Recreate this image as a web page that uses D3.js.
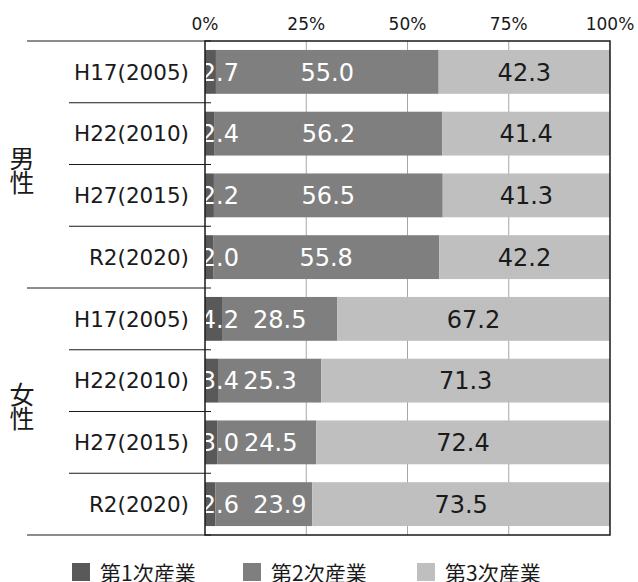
<!doctype html>
<html>
  <head>
    <meta charset="utf-8">
    <style>
      body { margin: 0; background: white; }
    </style>
    <script src="https://d3js.org/d3.v7.min.js"></script>
  </head>
  <body>
    <svg id="chart" width="638" height="582"></svg>
    <script>
      // row labels, top to bottom (male group then female group)
      var years = ["H17(2005)", "H22(2010)", "H27(2015)", "R2(2020)"];
      var groups = ["男性", "女性"];
      var series = ["第1次産業", "第2次産業", "第3次産業"];
      var colors = ["#595959", "#7f7f7f", "#bfbfbf"];
      var labelColors = ["#ffffff", "#ffffff", "#1a1a1a"];

      var primaryVals   = [2.7, 2.4, 2.2, 2.0, 4.2, 3.4, 3.0, 2.6];
      var secondaryVals = [55.0, 56.2, 56.5, 55.8, 28.5, 25.3, 24.5, 23.9];
      var tertiaryVals  = [42.3, 41.4, 41.3, 42.2, 67.2, 71.3, 72.4, 73.5];
      var tickVals = [0, 25, 50, 75, 100];

      // hand nudges of the 2nd-series labels (px), as placed in the original
      var secondLabelNudge = [0, 0, 0, 0, 0, 0, 4, 16];

      var latin = "'DejaVu Sans', 'Noto Sans CJK JP', sans-serif";
      var cjk = "'Noto Sans CJK JP', sans-serif";

      var rows = [];
      groups.forEach(function(g, gi){
        years.forEach(function(y, yi){
          var i = gi*years.length + yi;
          rows.push({key: g + i, idx: i, year: y, group: g,
                     v: [primaryVals[i], secondaryVals[i], tertiaryVals[i]]});
        });
      });

      var svg = d3.select("#chart");
      var plotL = 205, plotR = 610, plotT = 41, plotB = 535;

      var x = d3.scaleLinear().domain([0, 100]).range([plotL, plotR]);
      var y = d3.scaleBand().domain(rows.map(function(d){return d.key;}))
                .range([plotT, plotB]).paddingInner(0.29).paddingOuter(0.145);
      var step = y.step();

      // gridlines
      svg.append("g").selectAll("line")
        .data([25, 50, 75]).enter().append("line")
        .attr("x1", function(d){return x(d);}).attr("x2", function(d){return x(d);})
        .attr("y1", plotT).attr("y2", plotB)
        .attr("stroke", "#a6a6a6").attr("stroke-width", 1);

      // stacked segments
      var stack = [];
      rows.forEach(function(r){
        var acc = 0;
        r.v.forEach(function(v, si){
          stack.push({row: r, si: si, x0: acc, x1: acc + v, v: v});
          acc += v;
        });
      });

      svg.append("g").selectAll("rect")
        .data(stack).enter().append("rect")
        .attr("x", function(d){return x(d.x0);})
        .attr("width", function(d){return x(d.x1) - x(d.x0);})
        .attr("y", function(d){return y(d.row.key);})
        .attr("height", y.bandwidth())
        .attr("fill", function(d){return colors[d.si];});

      svg.append("clipPath").attr("id", "plotclip")
        .append("rect").attr("x", plotL + 1).attr("y", plotT)
        .attr("width", plotR - plotL).attr("height", plotB - plotT);

      // value labels; the thin first segment gets its label pushed right
      svg.append("g").attr("clip-path", "url(#plotclip)")
        .selectAll("text")
        .data(stack).enter().append("text")
        .attr("x", function(d){
          if (d.si === 0) return x(0) + 34;
          var cx = x((d.x0 + d.x1)/2);
          return d.si === 1 ? cx + secondLabelNudge[d.row.idx] : cx;
        })
        .attr("y", function(d){return y(d.row.key) + y.bandwidth()/2;})
        .attr("dy", "0.36em")
        .attr("text-anchor", function(d){return d.si === 0 ? "end" : "middle";})
        .attr("font-family", latin)
        .attr("font-size", 24)
        .attr("fill", function(d){return labelColors[d.si];})
        .text(function(d){return d.v.toFixed(1);});

      // top tick labels
      svg.append("g").selectAll("text")
        .data(tickVals).enter().append("text")
        .attr("x", function(d){return x(d);})
        .attr("y", 30)
        .attr("text-anchor", "middle")
        .attr("font-family", latin)
        .attr("font-size", 17)
        .attr("fill", "#1a1a1a")
        .text(function(d){return d + "%";});

      // plot frame
      svg.append("rect")
        .attr("x", plotL).attr("y", plotT)
        .attr("width", plotR - plotL).attr("height", plotB - plotT)
        .attr("fill", "none").attr("stroke", "#1a1a1a").attr("stroke-width", 1.5);

      // row separators and group separators on the left
      var seps = d3.range(rows.length + 1);
      svg.append("g").selectAll("line")
        .data(seps).enter().append("line")
        .attr("x1", function(i){return (i % years.length === 0) ? 27 : 69;})
        .attr("x2", 211)
        .attr("y1", function(i){return plotT + i*step;})
        .attr("y2", function(i){return plotT + i*step;})
        .attr("stroke", "#1a1a1a").attr("stroke-width", 1);

      // row labels
      svg.append("g").selectAll("text")
        .data(rows).enter().append("text")
        .attr("x", 189)
        .attr("y", function(d){return y(d.key) + y.bandwidth()/2;})
        .attr("dy", "0.36em")
        .attr("text-anchor", "end")
        .attr("font-family", latin)
        .attr("font-size", 21.5)
        .attr("fill", "#1a1a1a")
        .text(function(d){return d.year;});

      // vertical group labels
      var groupShift = [6, -5];
      groups.forEach(function(g, gi){
        var cy = plotT + (gi*years.length + years.length/2)*step + groupShift[gi];
        var t = svg.append("text")
          .attr("x", 22).attr("text-anchor", "middle")
          .attr("font-family", cjk)
          .attr("font-size", 25).attr("fill", "#1a1a1a");
        g.split("").forEach(function(ch, ci){
          t.append("tspan").attr("x", 22)
            .attr("y", cy + (ci - 0.5)*24 + 9)
            .text(ch);
        });
      });

      // legend
      var legendX = [72, 243, 417];
      var lg = svg.append("g").selectAll("g")
        .data(series).enter().append("g")
        .attr("transform", function(d, i){return "translate(" + legendX[i] + ",563)";});
      lg.append("rect").attr("width", 18).attr("height", 18)
        .attr("fill", function(d, i){return colors[i];});
      lg.append("text").attr("x", 28).attr("y", 17.5)
        .attr("font-family", cjk)
        .attr("font-size", 21).attr("fill", "#1a1a1a")
        .text(function(d){return d;});
    </script>
  </body>
</html>
